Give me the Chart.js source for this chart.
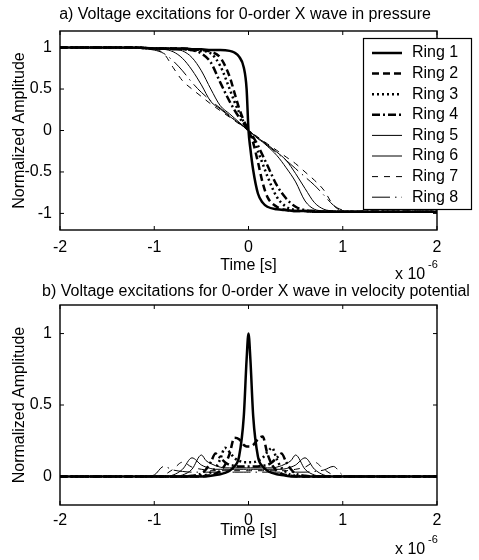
<!DOCTYPE html>
<html lang="en">
<head>
    <meta charset="UTF-8">
    <title>Voltage excitations for 0-order X wave</title>
    <script src="https://cdn.jsdelivr.net/npm/chart.js"></script>
    <style>
        body { margin: 0; background: #fff; }
        #pressureChart { position: absolute; left: 0; top: 0; }
        #velocityChart { position: absolute; left: 0; top: 280px; }
    </style>
</head>
<body>
    <canvas id="pressureChart" width="479" height="290"></canvas>
    <canvas id="velocityChart" width="479" height="280"></canvas>
    <script>
        // time axis in units of 1e-6 s
        const timeP = [-2, -1.2, -1, -0.9, -0.8, -0.7, -0.6, -0.5, -0.4, -0.3, -0.2, -0.15, -0.1, -0.05, -0.02, 0,
                       0.02, 0.05, 0.1, 0.15, 0.2, 0.3, 0.4, 0.5, 0.6, 0.7, 0.8, 0.9, 1, 1.2, 2];

        // a) pressure excitations
        const pRing1 = [1, 1, 0.99, 0.99, 0.99, 0.99, 0.98, 0.98, 0.97, 0.97, 0.96, 0.94, 0.89, 0.76, 0.5, 0,
                        -0.22, -0.48, -0.76, -0.87, -0.92, -0.95, -0.96, -0.97, -0.97, -0.98, -0.98, -0.98, -0.98, -0.98, -0.98];
        const pRing2 = [1, 1, 0.99, 0.99, 0.99, 0.99, 0.98, 0.97, 0.95, 0.88, 0.65, 0.46, 0.27, 0.12, 0.05, 0,
                        -0.05, -0.15, -0.38, -0.63, -0.8, -0.92, -0.96, -0.97, -0.97, -0.98, -0.98, -0.98, -0.98, -0.98, -0.98];
        const pRing3 = [1, 1, 0.99, 0.99, 0.99, 0.98, 0.97, 0.96, 0.93, 0.78, 0.5, 0.35, 0.22, 0.1, 0.04, 0,
                        -0.04, -0.1, -0.25, -0.4, -0.55, -0.8, -0.92, -0.96, -0.97, -0.98, -0.98, -0.98, -0.98, -0.98, -0.98];
        const pRing4 = [1, 1, 0.99, 0.99, 0.98, 0.98, 0.97, 0.93, 0.82, 0.58, 0.35, 0.25, 0.16, 0.08, 0.03, 0,
                        -0.03, -0.08, -0.18, -0.3, -0.42, -0.66, -0.82, -0.92, -0.96, -0.97, -0.98, -0.98, -0.98, -0.98, -0.98];
        const pRing5 = [1, 1, 0.99, 0.99, 0.98, 0.96, 0.88, 0.72, 0.5, 0.3, 0.2, 0.15, 0.1, 0.05, 0.02, 0,
                        -0.02, -0.05, -0.1, -0.14, -0.19, -0.3, -0.45, -0.62, -0.85, -0.95, -0.97, -0.98, -0.98, -0.98, -0.98];
        const pRing6 = [1, 1, 0.99, 0.98, 0.95, 0.87, 0.73, 0.55, 0.35, 0.26, 0.17, 0.13, 0.09, 0.045, 0.02, 0,
                        -0.02, -0.045, -0.09, -0.13, -0.17, -0.26, -0.36, -0.52, -0.7, -0.87, -0.95, -0.97, -0.98, -0.98, -0.98];
        const pRing7 = [1, 1, 0.98, 0.93, 0.76, 0.6, 0.5, 0.41, 0.32, 0.24, 0.16, 0.12, 0.08, 0.04, 0.015, 0,
                        -0.015, -0.04, -0.08, -0.12, -0.16, -0.24, -0.32, -0.4, -0.5, -0.6, -0.72, -0.9, -0.97, -0.98, -0.98];
        const pRing8 = [1, 0.99, 0.97, 0.93, 0.84, 0.72, 0.58, 0.46, 0.36, 0.27, 0.18, 0.13, 0.09, 0.045, 0.018, 0,
                        -0.018, -0.045, -0.09, -0.13, -0.18, -0.27, -0.36, -0.46, -0.56, -0.66, -0.78, -0.9, -0.96, -0.98, -0.98];

        const timeV = [-2, -1.1, -1, -0.9, -0.8, -0.7, -0.6, -0.5, -0.45, -0.4, -0.35, -0.3, -0.25, -0.2, -0.15, -0.1, -0.05, -0.02, 0,
                       0.02, 0.05, 0.1, 0.15, 0.2, 0.25, 0.3, 0.35, 0.4, 0.45, 0.5, 0.6, 0.7, 0.8, 0.9, 1, 1.1, 2];

        // b) velocity potential excitations
        const vRing1 = [0, 0, 0, 0, 0, 0, 0, 0, 0, 0.005, 0.01, 0.015, 0.025, 0.04, 0.07, 0.14, 0.42, 0.82, 1,
                        0.82, 0.42, 0.14, 0.07, 0.04, 0.025, 0.015, 0.01, 0.005, 0, 0, 0, 0, 0, 0, 0, 0, 0];
        const vRing2 = [0, 0, 0, 0, 0, 0, 0, 0, 0.005, 0.01, 0.02, 0.04, 0.08, 0.16, 0.27, 0.26, 0.22, 0.21, 0.21,
                        0.21, 0.22, 0.26, 0.28, 0.16, 0.08, 0.04, 0.02, 0.01, 0.005, 0, 0, 0, 0, 0, 0, 0, 0];
        const vRing3 = [0, 0, 0, 0, 0, 0, 0, 0.005, 0.01, 0.03, 0.06, 0.12, 0.2, 0.17, 0.13, 0.11, 0.1, 0.1, 0.1,
                        0.1, 0.1, 0.11, 0.13, 0.17, 0.2, 0.12, 0.06, 0.03, 0.01, 0.005, 0, 0, 0, 0, 0, 0, 0];
        const vRing4 = [0, 0, 0, 0, 0, 0, 0.005, 0.02, 0.05, 0.1, 0.16, 0.13, 0.1, 0.08, 0.075, 0.07, 0.07, 0.07, 0.07,
                        0.07, 0.07, 0.07, 0.075, 0.08, 0.1, 0.13, 0.16, 0.1, 0.05, 0.02, 0.005, 0, 0, 0, 0, 0, 0];
        const vRing5 = [0, 0, 0, 0, 0, 0.01, 0.05, 0.15, 0.11, 0.09, 0.075, 0.065, 0.06, 0.06, 0.06, 0.06, 0.06, 0.06, 0.06,
                        0.06, 0.06, 0.06, 0.06, 0.06, 0.06, 0.065, 0.075, 0.09, 0.11, 0.15, 0.05, 0.01, 0, 0, 0, 0, 0];
        const vRing6 = [0, 0, 0, 0, 0.01, 0.05, 0.13, 0.08, 0.065, 0.055, 0.05, 0.05, 0.05, 0.05, 0.05, 0.05, 0.05, 0.05, 0.05,
                        0.05, 0.05, 0.05, 0.05, 0.05, 0.05, 0.05, 0.05, 0.055, 0.065, 0.08, 0.13, 0.05, 0.01, 0, 0, 0, 0];
        const vRing7 = [0, 0, 0, 0.01, 0.05, 0.1, 0.065, 0.05, 0.045, 0.04, 0.04, 0.04, 0.04, 0.04, 0.04, 0.04, 0.04, 0.04, 0.04,
                        0.04, 0.04, 0.04, 0.04, 0.04, 0.04, 0.04, 0.04, 0.04, 0.045, 0.05, 0.065, 0.1, 0.05, 0.01, 0, 0, 0];
        const vRing8 = [0, 0, 0.01, 0.07, 0.045, 0.035, 0.03, 0.03, 0.03, 0.03, 0.03, 0.03, 0.03, 0.03, 0.03, 0.03, 0.03, 0.03, 0.03,
                        0.03, 0.03, 0.03, 0.03, 0.03, 0.03, 0.03, 0.03, 0.03, 0.03, 0.03, 0.03, 0.035, 0.045, 0.07, 0.01, 0, 0];

        const ringLabels = ['Ring 1', 'Ring 2', 'Ring 3', 'Ring 4', 'Ring 5', 'Ring 6', 'Ring 7', 'Ring 8'];
        const xTicks = [-2, -1, 0, 1, 2];
        const yTicksP = [-1, -0.5, 0, 0.5, 1];
        const yTicksV = [0, 0.5, 1];

        const FONT = '"Liberation Sans", Arial, Helvetica, sans-serif';
        Chart.defaults.font.family = FONT;
        Chart.defaults.font.size = 16;
        Chart.defaults.color = '#000';

        // matlab-like line styles: 4 thick, 4 thin
        const ringStyles = [
            { width: 2.5, dash: [] },
            { width: 2.5, dash: [7, 4] },
            { width: 2.5, dash: [2, 3] },
            { width: 2.5, dash: [8, 3, 2, 3] },
            { width: 1, dash: [] },
            { width: 1, dash: [] },
            { width: 1, dash: [6, 6] },
            { width: 1, dash: [18, 5, 1.5, 5] }
        ];

        function buildSets(xs, rings) {
            return rings.map((ys, i) => ({
                label: ringLabels[i],
                data: xs.map((x, j) => ({ x: x, y: ys[j] })),
                borderColor: '#000',
                borderWidth: ringStyles[i].width,
                borderDash: ringStyles[i].dash,
                pointRadius: 0,
                fill: false,
                cubicInterpolationMode: 'monotone'
            }));
        }

        // box, inward ticks, title, exponent label and legend
        const framePlugin = {
            id: 'frame',
            afterDatasetsDraw(chart, args, opts) {
                const { ctx, chartArea: a } = chart;
                const x = chart.scales.x, y = chart.scales.y;
                ctx.save();
                ctx.strokeStyle = '#000';
                ctx.setLineDash([]);
                ctx.lineWidth = 1;
                ctx.beginPath();
                x.ticks.forEach(t => {
                    const px = x.getPixelForValue(t.value);
                    ctx.moveTo(px, a.bottom); ctx.lineTo(px, a.bottom - 4);
                    ctx.moveTo(px, a.top); ctx.lineTo(px, a.top + 4);
                });
                y.ticks.forEach(t => {
                    const py = y.getPixelForValue(t.value);
                    ctx.moveTo(a.left, py); ctx.lineTo(a.left + 4, py);
                    ctx.moveTo(a.right, py); ctx.lineTo(a.right - 4, py);
                });
                ctx.stroke();
                ctx.lineWidth = 1.4;
                ctx.strokeRect(a.left, a.top, a.right - a.left, a.bottom - a.top);

                ctx.fillStyle = '#000';
                ctx.textBaseline = 'middle';
                ctx.textAlign = 'center';
                ctx.font = '16px ' + FONT;
                ctx.fillText(opts.title, opts.titleX, opts.titleY);

                ctx.textAlign = 'left';
                ctx.fillText('x 10', 395, opts.expY);
                ctx.font = '11px ' + FONT;
                ctx.fillText('-6', 428, opts.expY - 10);
                ctx.restore();
            },
            afterDraw(chart, args, opts) {
                if (!opts.legend) return;
                const ctx = chart.ctx;
                ctx.save();
                ctx.fillStyle = '#fff';
                ctx.fillRect(363, 38, 108, 171);
                ctx.strokeStyle = '#000';
                ctx.lineWidth = 1.2;
                ctx.strokeRect(363.5, 38.5, 108, 171);
                ctx.font = '16px ' + FONT;
                ctx.textAlign = 'left';
                ctx.textBaseline = 'middle';
                chart.data.datasets.forEach((ds, i) => {
                    const cy = 53 + i * 20.6;
                    ctx.lineWidth = ds.borderWidth;
                    ctx.setLineDash(ds.borderDash);
                    ctx.beginPath();
                    ctx.moveTo(372, cy);
                    ctx.lineTo(402, cy);
                    ctx.stroke();
                    ctx.setLineDash([]);
                    ctx.fillStyle = '#000';
                    ctx.fillText(ds.label, 412, cy);
                });
                ctx.restore();
            }
        };

        function makeChart(id, sets, yMin, yMax, yTicks, cfg) {
            const ctx = document.getElementById(id).getContext('2d');
            return new Chart(ctx, {
                type: 'line',
                data: { datasets: sets },
                plugins: [framePlugin],
                options: {
                    responsive: false,
                    animation: false,
                    layout: { padding: { left: 0, right: 42, top: cfg.top, bottom: 0 } },
                    plugins: {
                        legend: { display: false },
                        tooltip: { enabled: false },
                        title: { display: false },
                        frame: {
                            title: cfg.title,
                            titleX: cfg.titleX,
                            titleY: cfg.titleY,
                            expY: cfg.expY,
                            legend: cfg.legend
                        }
                    },
                    scales: {
                        x: {
                            type: 'linear',
                            min: -2,
                            max: 2,
                            afterBuildTicks: s => { s.ticks = xTicks.map(v => ({ value: v })); },
                            afterFit: s => { s.height = cfg.xHeight; },
                            grid: { display: false, drawTicks: false },
                            border: { display: false },
                            ticks: { padding: cfg.xTickPad, callback: v => String(v) },
                            title: {
                                display: true,
                                text: 'Time [s]',
                                padding: { top: 0, bottom: cfg.xTitlePad }
                            }
                        },
                        y: {
                            type: 'linear',
                            min: yMin,
                            max: yMax,
                            afterBuildTicks: s => { s.ticks = yTicks.map(v => ({ value: v })); },
                            afterFit: s => { s.width = 60; },
                            grid: { display: false, drawTicks: false },
                            border: { display: false },
                            ticks: { padding: 8, callback: v => String(v) },
                            title: {
                                display: true,
                                text: 'Normalized Amplitude',
                                padding: { top: 10, bottom: 0 }
                            }
                        }
                    }
                }
            });
        }

        makeChart('pressureChart',
            buildSets(timeP, [pRing1, pRing2, pRing3, pRing4, pRing5, pRing6, pRing7, pRing8]),
            -1.2, 1.2, yTicksP,
            {
                top: 31, xHeight: 60, xTickPad: 8, xTitlePad: 15,
                title: 'a) Voltage excitations for 0-order X wave in pressure',
                titleX: 245, titleY: 15, expY: 275, legend: true
            });

        makeChart('velocityChart',
            buildSets(timeV, [vRing1, vRing2, vRing3, vRing4, vRing5, vRing6, vRing7, vRing8]),
            -0.2, 1.2, yTicksV,
            {
                top: 25, xHeight: 55, xTickPad: 6, xTitlePad: 20,
                title: 'b) Voltage excitations for 0-order X wave in velocity potential',
                titleX: 256, titleY: 12, expY: 270, legend: false
            });
    </script>
</body>
</html>
